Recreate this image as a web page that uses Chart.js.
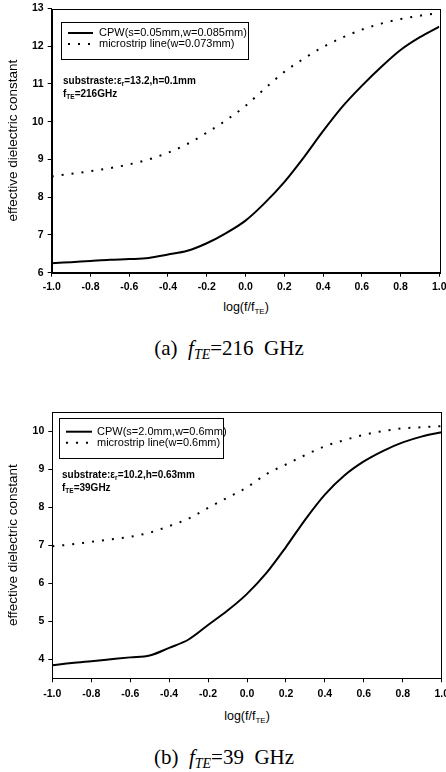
<!DOCTYPE html>
<html>
<head>
<meta charset="utf-8">
<script src="https://cdn.jsdelivr.net/npm/chart.js@4.4.1/dist/chart.umd.min.js"></script>
<style>
  body { margin: 0; background: #fff; }
  #page { position: relative; width: 446px; height: 772px; overflow: hidden; background: #fff; }
  canvas { position: absolute; left: 0; }
  .note { position: absolute; font: bold 10px "Liberation Sans", Arial, sans-serif; color: #000; white-space: nowrap; line-height: 13px; }
  .note sub { font-size: 6.5px; vertical-align: -2px; }
  .xtitle { position: absolute; width: 446px; text-align: center; font: 12.5px "Liberation Sans", Arial, sans-serif; color: #000; }
  .xtitle sub { font-size: 8px; vertical-align: -3px; }
  .caption { position: absolute; width: 446px; text-align: center; font: 21px "Liberation Serif", "Times New Roman", serif; color: #000; white-space: pre; }
  .caption i sub { font-size: 14px; vertical-align: -4px; }
</style>
</head>
<body>
<div id="page">
  <canvas id="chartA" width="446" height="300" style="top:0px"></canvas>
  <canvas id="chartB" width="446" height="300" style="top:400px"></canvas>

  <div class="note" style="left:63px; top:74px">substraste:ε<sub>r</sub>=13.2,h=0.1mm</div>
  <div class="note" style="left:63px; top:87px">f<sub>TE</sub>=216GHz</div>
  <div class="note" style="left:62px; top:468px">substrate:ε<sub>r</sub>=10.2,h=0.63mm</div>
  <div class="note" style="left:62px; top:481px">f<sub>TE</sub>=39GHz</div>

  <div class="xtitle" style="top:300px; left:23px">log(f/f<sub>TE</sub>)</div>
  <div class="xtitle" style="top:709px; left:24px">log(f/f<sub>TE</sub>)</div>

  <div class="caption" style="top:336px; left:6px">(a)  <i>f<sub>TE</sub></i>=216  GHz</div>
  <div class="caption" style="top:745px; left:1px">(b)  <i>f<sub>TE</sub></i>=39  GHz</div>
</div>

<script>
// log(f/fTE) sample points
const xVals = [-1.0, -0.9, -0.8, -0.7, -0.6, -0.5, -0.4, -0.3, -0.2, -0.1, 0.0,
               0.1, 0.2, 0.3, 0.4, 0.5, 0.6, 0.7, 0.8, 0.9, 1.0];

// (a) fTE = 216 GHz
const cpwA = [6.25, 6.28, 6.31, 6.34, 6.36, 6.39, 6.48, 6.58, 6.78, 7.05, 7.38,
              7.85, 8.40, 9.05, 9.75, 10.40, 10.95, 11.45, 11.90, 12.24, 12.52];
const msA  = [8.55, 8.62, 8.69, 8.77, 8.87, 9.00, 9.18, 9.41, 9.71, 10.04, 10.42,
              10.88, 11.32, 11.67, 11.98, 12.23, 12.44, 12.60, 12.72, 12.81, 12.88];
const yTicksA = [6, 7, 8, 9, 10, 11, 12, 13];

// (b) fTE = 39 GHz
const cpwB = [3.84, 3.90, 3.95, 4.00, 4.05, 4.10, 4.30, 4.52, 4.90, 5.28, 5.72,
              6.27, 6.95, 7.68, 8.33, 8.83, 9.20, 9.48, 9.70, 9.86, 9.97];
const msB  = [6.97, 7.02, 7.09, 7.15, 7.22, 7.33, 7.50, 7.70, 7.98, 8.25, 8.52,
              8.87, 9.12, 9.37, 9.60, 9.76, 9.90, 10.00, 10.07, 10.10, 10.13];
const yTicksB = [4, 5, 6, 7, 8, 9, 10];

const labelsA = ['CPW(s=0.05mm,w=0.085mm)', 'microstrip line(w=0.073mm)'];
const labelsB = ['CPW(s=2.0mm,w=0.6mm)', 'microstrip line(w=0.6mm)'];

const yTitle = 'effective dielectric constant';

function pts(ys) {
    return xVals.map((x, i) => ({ x: x, y: ys[i] }));
}

// frame around the plot area
const frame = {
    id: 'frame',
    afterDraw(chart) {
        const a = chart.chartArea, c = chart.ctx;
        c.save();
        c.strokeStyle = '#000';
        c.lineWidth = 1;
        c.strokeRect(Math.round(a.left) + 0.5, Math.round(a.top) + 0.5,
                     Math.round(a.right - a.left), Math.round(a.bottom - a.top));
        c.restore();
    }
};

// boxed legend with line samples
const boxLegend = {
    id: 'boxLegend',
    afterDraw(chart, args, o) {
        const c = chart.ctx;
        c.save();
        c.fillStyle = '#fff';
        c.fillRect(o.x, o.y, o.w, o.h);
        c.strokeStyle = '#000';
        c.lineWidth = 1;
        c.strokeRect(o.x + 0.5, o.y + 0.5, o.w, o.h);
        c.font = '11px "Liberation Sans", Arial, sans-serif';
        c.textBaseline = 'middle';
        chart.data.datasets.forEach((ds, i) => {
            const yy = o.rowY[i];
            c.strokeStyle = ds.borderColor;
            c.lineWidth = ds.borderWidth;
            c.setLineDash(ds.borderDash || []);
            c.beginPath();
            c.moveTo(o.sx0, yy);
            c.lineTo(o.sx1, yy);
            c.stroke();
            c.setLineDash([]);
            c.fillStyle = '#000';
            c.fillText(ds.label, o.tx, yy);
        });
        c.restore();
    }
};

function makeChart(id, cpw, ms, labels, yMin, yMax, yTicks, dims) {
    const ctx = document.getElementById(id).getContext('2d');
    return new Chart(ctx, {
        type: 'line',
        data: {
            datasets: [{
                label: labels[0],
                data: pts(cpw),
                borderColor: '#000',
                borderWidth: 2,
                pointRadius: 0,
                cubicInterpolationMode: 'monotone'
            }, {
                label: labels[1],
                data: pts(ms),
                borderColor: '#000',
                borderWidth: 2,
                borderDash: [2, 8],
                borderCapStyle: 'butt',
                pointRadius: 0,
                cubicInterpolationMode: 'monotone'
            }]
        },
        options: {
            responsive: false,
            animation: false,
            layout: { padding: { top: dims.padTop, right: dims.padRight, left: 0, bottom: 0 } },
            plugins: {
                legend: { display: false },
                tooltip: { enabled: false },
                boxLegend: dims.legend
            },
            scales: {
                x: {
                    type: 'linear',
                    min: -1,
                    max: 1,
                    grid: { drawOnChartArea: false, drawTicks: true, tickLength: 4, color: '#000' },
                    border: { display: true, color: '#000', width: 1 },
                    ticks: {
                        stepSize: 0.2,
                        color: '#000',
                        padding: dims.xTickPad,
                        maxRotation: 0,
                        font: { family: '"Liberation Sans", Arial, sans-serif', size: 10.5, weight: 'bold' },
                        callback: v => (Math.abs(v) < 1e-9 ? 0 : v).toFixed(1)
                    },
                    afterFit(scale) {
                        scale.height = dims.xHeight;
                        scale.paddingLeft = 0;
                        scale.paddingRight = 0;
                    }
                },
                y: {
                    min: yMin,
                    max: yMax,
                    grid: { drawOnChartArea: false, drawTicks: true, tickLength: 4, color: '#000' },
                    border: { display: true, color: '#000', width: 1 },
                    ticks: {
                        color: '#000',
                        padding: 4,
                        font: { family: '"Liberation Sans", Arial, sans-serif', size: 10.5, weight: 'bold' }
                    },
                    afterBuildTicks(scale) {
                        scale.ticks = yTicks.map(v => ({ value: v }));
                    },
                    title: {
                        display: true,
                        text: yTitle,
                        color: '#000',
                        padding: { top: 5, bottom: 0 },
                        font: { family: '"Liberation Sans", Arial, sans-serif', size: 13.5 }
                    },
                    afterFit(scale) {
                        scale.width = dims.yWidth;
                        scale.paddingTop = 0;
                        scale.paddingBottom = 0;
                    }
                }
            }
        },
        plugins: [frame, boxLegend]
    });
}

makeChart('chartA', cpwA, msA, labelsA, 6, 13, yTicksA, {
    padTop: 8.5, padRight: 6.7, yWidth: 51.7, xHeight: 27.3, xTickPad: 4,
    legend: { x: 61, y: 22, w: 187, h: 37, rowY: [33, 44], sx0: 68, sx1: 93, tx: 99 }
});

makeChart('chartB', cpwB, msB, labelsB, 3.5, 10.5, yTicksB, {
    padTop: 12, padRight: 4.3, yWidth: 52.3, xHeight: 21.7, xTickPad: 6,
    legend: { x: 59, y: 18, w: 164, h: 40, rowY: [31.7, 42.7], sx0: 66, sx1: 92, tx: 97 }
});
</script>
</body>
</html>
